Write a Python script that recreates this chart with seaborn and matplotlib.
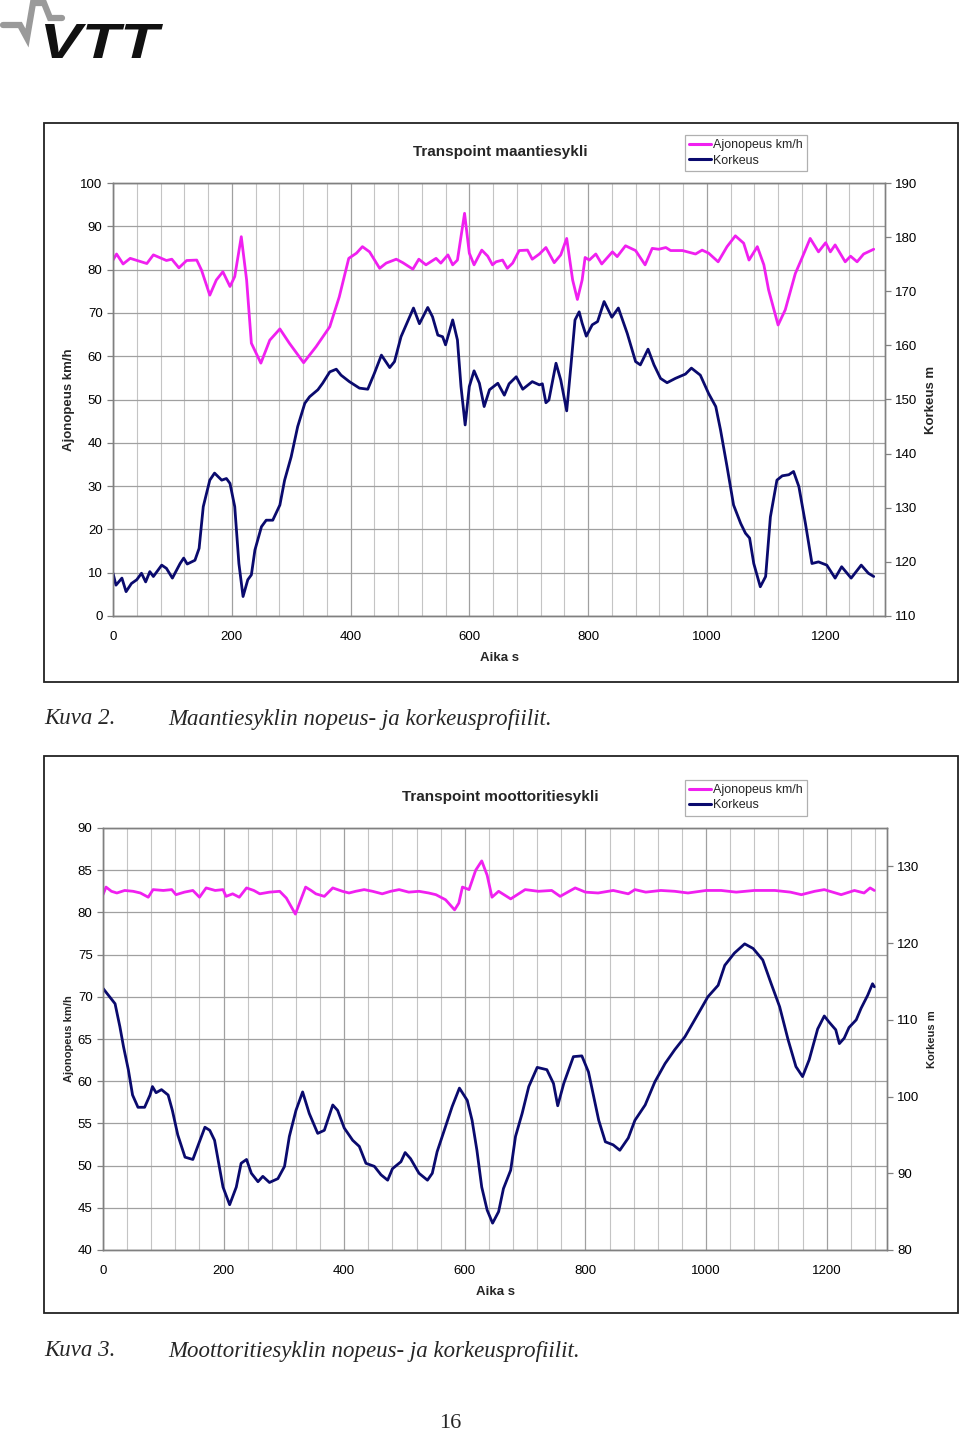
import matplotlib
matplotlib.use("Agg")
import matplotlib.pyplot as plt
from matplotlib.lines import Line2D
from matplotlib.patches import Rectangle, PathPatch
from matplotlib.textpath import TextPath
from matplotlib.font_manager import FontProperties
from matplotlib.transforms import Affine2D
from matplotlib.ticker import MultipleLocator
import seaborn as sns

# --- data (time s, value) ---
road_speed_t = [0, 6, 17, 29, 57, 68, 90, 99, 111, 124, 141, 149, 163, 174, 185, 197, 205, 216, 225, 233,
                249, 264, 281, 297, 321, 342, 365, 381, 397, 410, 420, 432, 449, 460, 477, 488, 505, 515,
                527, 544, 552, 564, 572, 580, 592, 600, 608, 621, 631, 639, 645, 656, 664, 673, 684, 698,
                706, 718, 729, 743, 754, 764, 774, 782, 790, 795, 802, 813, 823, 841, 849, 863, 880, 896,
                908, 919, 931, 939, 959, 981, 992, 1003, 1019, 1034, 1048, 1062, 1071, 1085, 1096, 1104,
                1120, 1132, 1149, 1160, 1174, 1188, 1200, 1208, 1216, 1233, 1242, 1253, 1264, 1281]
road_speed = [82.2, 83.6, 81.3, 82.6, 81.4, 83.4, 82.1, 82.4, 80.4, 82.1, 82.2, 79.9, 74.1, 77.6, 79.5,
              76.1, 78.4, 87.6, 77.6, 63.0, 58.4, 63.7, 66.3, 63.0, 58.5, 62.2, 66.8, 73.7, 82.6, 83.8,
              85.3, 84.1, 80.3, 81.5, 82.4, 81.6, 80.1, 82.4, 81.1, 82.6, 81.5, 83.4, 81.1, 82.2, 93.0,
              83.8, 81.1, 84.5, 83.1, 81.1, 81.8, 82.2, 80.3, 81.5, 84.4, 84.5, 82.4, 83.6, 85.1, 81.6,
              83.4, 87.2, 77.6, 73.1, 77.6, 82.8, 82.2, 83.6, 81.3, 84.1, 83.0, 85.5, 84.4, 81.1, 84.9,
              84.7, 85.1, 84.4, 84.4, 83.6, 84.5, 83.8, 81.8, 85.3, 87.8, 86.1, 82.2, 85.3, 81.1, 75.3,
              67.2, 70.7, 79.1, 82.6, 87.2, 84.1, 86.2, 84.1, 85.7, 81.8, 83.1, 81.8, 83.6, 84.7]

road_height_t = [0, 5, 15, 22, 31, 40, 48, 55, 62, 68, 82, 90, 100, 113, 119, 125, 138, 145, 152, 163,
                 171, 183, 191, 197, 205, 212, 219, 227, 233, 239, 250, 258, 269, 281, 289, 300, 311, 323,
                 331, 345, 353, 365, 376, 384, 398, 415, 429, 440, 452, 466, 474, 485, 496, 506, 516, 530,
                 538, 547, 555, 560, 572, 580, 586, 593, 600, 608, 617, 625, 634, 648, 659, 667, 679, 690,
                 706, 718, 723, 729, 734, 746, 754, 764, 771, 778, 785, 790, 797, 807, 816, 827, 840, 851,
                 866, 880, 888, 901, 911, 922, 933, 947, 964, 974, 989, 1003, 1015, 1023, 1034, 1045, 1057,
                 1065, 1072, 1079, 1090, 1099, 1107, 1118, 1127, 1138, 1146, 1155, 1166, 1177, 1188, 1202,
                 1216, 1227, 1243, 1260, 1272, 1281]
road_height = [117.9, 115.7, 117.0, 114.5, 116.0, 116.7, 117.9, 116.3, 118.2, 117.3, 119.4, 118.8, 117.0,
               119.7, 120.7, 119.6, 120.3, 122.5, 130.2, 135.1, 136.4, 135.1, 135.4, 134.5, 130.2, 119.7,
               113.6, 116.7, 117.6, 122.2, 126.5, 127.7, 127.7, 130.5, 135.1, 139.4, 145.0, 149.3, 150.5,
               151.8, 153.0, 155.1, 155.6, 154.5, 153.3, 152.1, 151.9, 154.8, 158.2, 155.9, 157.0, 161.6,
               164.4, 166.9, 164.0, 167.0, 165.3, 161.9, 161.6, 160.1, 164.7, 161.0, 152.4, 145.3, 152.4,
               155.3, 153.0, 148.7, 151.8, 153.0, 150.8, 152.9, 154.2, 151.9, 153.3, 152.7, 152.9, 149.4,
               149.9, 156.7, 153.6, 147.9, 156.1, 164.7, 166.2, 164.1, 161.7, 163.8, 164.4, 168.1, 165.2,
               166.9, 162.2, 157.0, 156.4, 159.3, 156.4, 153.9, 153.1, 153.9, 154.7, 155.8, 154.5, 151.1,
               148.7, 144.4, 137.6, 130.5, 127.1, 125.3, 124.4, 119.7, 115.4, 117.3, 128.3, 135.1, 135.9,
               136.1, 136.7, 133.9, 127.1, 119.7, 120.0, 119.4, 117.0, 119.1, 117.0, 119.4, 117.9, 117.3]

motorway_speed_t = [0, 5, 14, 23, 36, 50, 62, 75, 83, 100, 114, 121, 135, 149, 160, 171, 186, 199, 204, 215,
                    226, 238, 250, 260, 276, 293, 304, 319, 328, 336, 345, 353, 367, 381, 397, 408, 419,
                    433, 447, 463, 477, 491, 507, 524, 540, 552, 568, 583, 590, 596, 607, 618, 628, 637,
                    645, 656, 676, 700, 722, 744, 758, 783, 800, 821, 846, 871, 882, 900, 925, 948, 970,
                    1000, 1025, 1050, 1080, 1114, 1140, 1158, 1180, 1196, 1224, 1246, 1262, 1272, 1279]
motorway_speed = [82.1, 83.0, 82.5, 82.3, 82.6, 82.5, 82.3, 81.8, 82.7, 82.6, 82.7, 82.1, 82.4, 82.6, 81.8,
                  82.9, 82.6, 82.7, 81.9, 82.2, 81.8, 82.9, 82.6, 82.2, 82.4, 82.5, 81.7, 79.8, 81.5, 83.0,
                  82.6, 82.2, 81.9, 82.9, 82.5, 82.3, 82.5, 82.7, 82.5, 82.2, 82.5, 82.7, 82.4, 82.5, 82.3,
                  82.1, 81.5, 80.3, 81.1, 83.0, 82.7, 85.0, 86.1, 84.4, 81.8, 82.5, 81.6, 82.7, 82.5, 82.6,
                  81.9, 82.9, 82.4, 82.3, 82.6, 82.2, 82.7, 82.4, 82.6, 82.5, 82.3, 82.6, 82.6, 82.4, 82.6,
                  82.6, 82.4, 82.1, 82.5, 82.7, 82.1, 82.6, 82.3, 82.9, 82.6]

motorway_height_t = [0, 9, 20, 28, 34, 42, 49, 58, 69, 78, 82, 88, 97, 108, 115, 124, 136, 149, 158, 169,
                     177, 185, 199, 210, 221, 229, 238, 246, 257, 265, 276, 290, 301, 309, 320, 331, 342,
                     356, 367, 381, 389, 400, 414, 425, 436, 450, 461, 472, 480, 494, 501, 510, 524, 538,
                     546, 554, 568, 579, 591, 604, 612, 620, 628, 637, 646, 656, 664, 676, 684, 695, 706,
                     720, 736, 747, 754, 764, 780, 794, 805, 822, 833, 846, 857, 871, 882, 899, 915, 932,
                     948, 965, 987, 1003, 1020, 1031, 1047, 1064, 1078, 1094, 1108, 1122, 1136, 1149, 1160,
                     1171, 1185, 1196, 1204, 1215, 1221, 1229, 1237, 1249, 1257, 1268, 1276, 1279]
motorway_height = [114.1, 113.2, 112.1, 109.1, 106.5, 103.5, 100.2, 98.6, 98.6, 100.2, 101.3, 100.5, 100.9,
                   100.2, 98.2, 95.0, 92.1, 91.8, 93.7, 96.0, 95.6, 94.3, 88.2, 85.9, 88.2, 91.3, 91.8, 90.0,
                   88.9, 89.6, 88.8, 89.3, 90.9, 94.8, 98.2, 100.6, 97.8, 95.2, 95.6, 98.9, 98.2, 95.9, 94.3,
                   93.5, 91.3, 90.9, 89.8, 89.1, 90.6, 91.5, 92.7, 91.9, 90.0, 89.1, 90.0, 92.8, 96.1, 98.7,
                   101.1, 99.5, 96.9, 93.0, 88.2, 85.2, 83.5, 85.0, 88.0, 90.4, 94.8, 97.8, 101.3, 103.8,
                   103.5, 101.7, 98.8, 101.7, 105.2, 105.3, 103.2, 96.9, 94.1, 93.7, 93.0, 94.6, 96.9, 98.9,
                   101.9, 104.3, 106.1, 107.8, 110.8, 113.0, 114.5, 117.1, 118.7, 119.9, 119.3, 117.8, 114.7,
                   111.7, 107.4, 103.9, 102.6, 104.8, 108.8, 110.5, 109.7, 108.7, 106.9, 107.6, 109.0, 110.0,
                   111.5, 113.2, 114.7, 114.3]

SPEED_LABEL = "Ajonopeus km/h"
HEIGHT_LABEL = "Korkeus"
MAGENTA = "#f020f0"
NAVY = "#0a0a6e"
GRID = "#a0a0a0"
FONT = ["Liberation Sans", "DejaVu Sans"]
SERIF = ["Liberation Serif", "DejaVu Serif"]

W, H = 960, 1436


def fx(px):
    return px / W


def fy(py):
    return 1 - py / H


def draw_chart(fig, box, axes_px, title, speed_t, speed, height_t, height,
               speed_lim, speed_step, height_lim, height_step, small_label=False):
    x0, y0, x1, y1 = box
    fig.patches.append(Rectangle((fx(x0), fy(y1)), fx(x1) - fx(x0), fy(y0) - fy(y1),
                                 transform=fig.transFigure, fill=False, edgecolor="#222", lw=1.3))
    l, t, r, b = axes_px
    ax = fig.add_axes([fx(l), fy(b), fx(r) - fx(l), fy(t) - fy(b)])
    ax2 = ax.twinx()

    sns.lineplot(x=speed_t, y=speed, ax=ax, color=MAGENTA, linewidth=2.0, sort=False, estimator=None)
    sns.lineplot(x=height_t, y=height, ax=ax2, color=NAVY, linewidth=2.0, sort=False, estimator=None)

    ax.set_xlim(0, 1300)
    ax.set_ylim(*speed_lim)
    ax.xaxis.set_major_locator(MultipleLocator(200))
    ax.xaxis.set_minor_locator(MultipleLocator(40))
    ax.yaxis.set_major_locator(MultipleLocator(speed_step))
    ax2.set_ylim(*height_lim)
    ax2.set_yticks(range(height_lim[0], int(height_lim[1]) + 1, height_step))

    ax.grid(True, which="major", axis="both", color=GRID, lw=0.9)
    ax.grid(True, which="minor", axis="x", color="#c4c4c4", lw=0.8)
    ax.set_axisbelow(True)
    ax2.grid(False)

    for a in (ax, ax2):
        for s in a.spines.values():
            s.set_color("#808080")
            s.set_linewidth(1.0)
        a.tick_params(axis="both", which="major", colors="#808080", length=4, width=0.9,
                      labelcolor="black", labelsize=9.5)
        a.tick_params(axis="x", which="minor", length=0)
        for lab in a.get_yticklabels() + a.get_xticklabels():
            lab.set_family(FONT)
    ax.tick_params(axis="x", pad=7)

    lab_size = 8 if small_label else 9.5
    ax.set_xlabel("Aika s", fontsize=9.5, fontweight="bold", family=FONT, labelpad=6)
    ax.set_ylabel(SPEED_LABEL, fontsize=lab_size, fontweight="bold", family=FONT,
                  labelpad=3 if small_label else 4)
    ax2.set_ylabel("Korkeus m", fontsize=lab_size, fontweight="bold", family=FONT, labelpad=5)

    fig.text(fx(500), fy(t - 31), title, ha="center", va="center", fontsize=11,
             fontweight="bold", family=FONT)
    handles = [Line2D([], [], color=MAGENTA, lw=2.2), Line2D([], [], color=NAVY, lw=2.2)]
    leg = ax.legend(handles, [SPEED_LABEL, HEIGHT_LABEL], loc="upper left",
                    bbox_to_anchor=(fx(685), fy(t - 48)), bbox_transform=fig.transFigure,
                    frameon=True, fancybox=False, framealpha=1, edgecolor="#b0b0b0",
                    prop={"family": FONT, "size": 9}, handlelength=1.7, handletextpad=0.2,
                    borderpad=0.35, labelspacing=0.25, borderaxespad=0)
    leg.get_frame().set_linewidth(0.9)
    return ax, ax2


def draw_logo(fig):
    # grey pulse line
    xs = [3, 20, 27, 33, 44, 50, 62]
    ys = [25, 25, 38, 3, 3, 18, 18]
    fig.add_artist(Line2D([fx(v) for v in xs], [fy(v) for v in ys], transform=fig.transFigure,
                          color="#9a9a9a", lw=4.5, solid_joinstyle="miter"))
    # wide heavy "VTT" letters, stretched to the logo box (x 45..163, y 24..58)
    tp = TextPath((0, 0), "VTT", size=1,
                  prop=FontProperties(family=FONT, weight="bold", style="italic"))
    bb = tp.get_extents()
    sx = 118 / bb.width
    sy = 34 / bb.height
    tr = Affine2D().translate(-bb.x0, -bb.y0).scale(sx, sy).translate(45, H - 58) + fig.dpi_scale_trans.inverted() + fig.dpi_scale_trans
    fig.add_artist(PathPatch(tp, transform=tr, color="#111", lw=0))


def main():
    sns.set_style("white")
    plt.rcParams["font.family"] = FONT
    fig = plt.figure(figsize=(W / 100, H / 100), dpi=100)

    draw_logo(fig)

    draw_chart(fig, (44, 123, 958, 682), (113, 183, 885, 616), "Transpoint maantiesykli",
               road_speed_t, road_speed, road_height_t, road_height,
               (0, 100), 10, (110, 190), 10)
    draw_chart(fig, (44, 756, 958, 1313), (103, 828, 887, 1250), "Transpoint moottoritiesykli",
               motorway_speed_t, motorway_speed, motorway_height_t, motorway_height,
               (40, 90), 5, (80, 135), 10, small_label=True)

    cap = dict(fontsize=16.5, style="italic", family=SERIF, va="center", ha="left")
    fig.text(fx(44), fy(719), "Kuva 2.", **cap)
    fig.text(fx(168), fy(719), "Maantiesyklin nopeus- ja korkeusprofiilit.", **cap)
    fig.text(fx(44), fy(1351), "Kuva 3.", **cap)
    fig.text(fx(168), fy(1351), "Moottoritiesyklin nopeus- ja korkeusprofiilit.", **cap)
    fig.text(fx(450), fy(1424), "16", fontsize=16, family=SERIF, va="center", ha="center")

    fig.savefig("out.png", dpi=100)
    plt.close(fig)


if __name__ == "__main__":
    main()
